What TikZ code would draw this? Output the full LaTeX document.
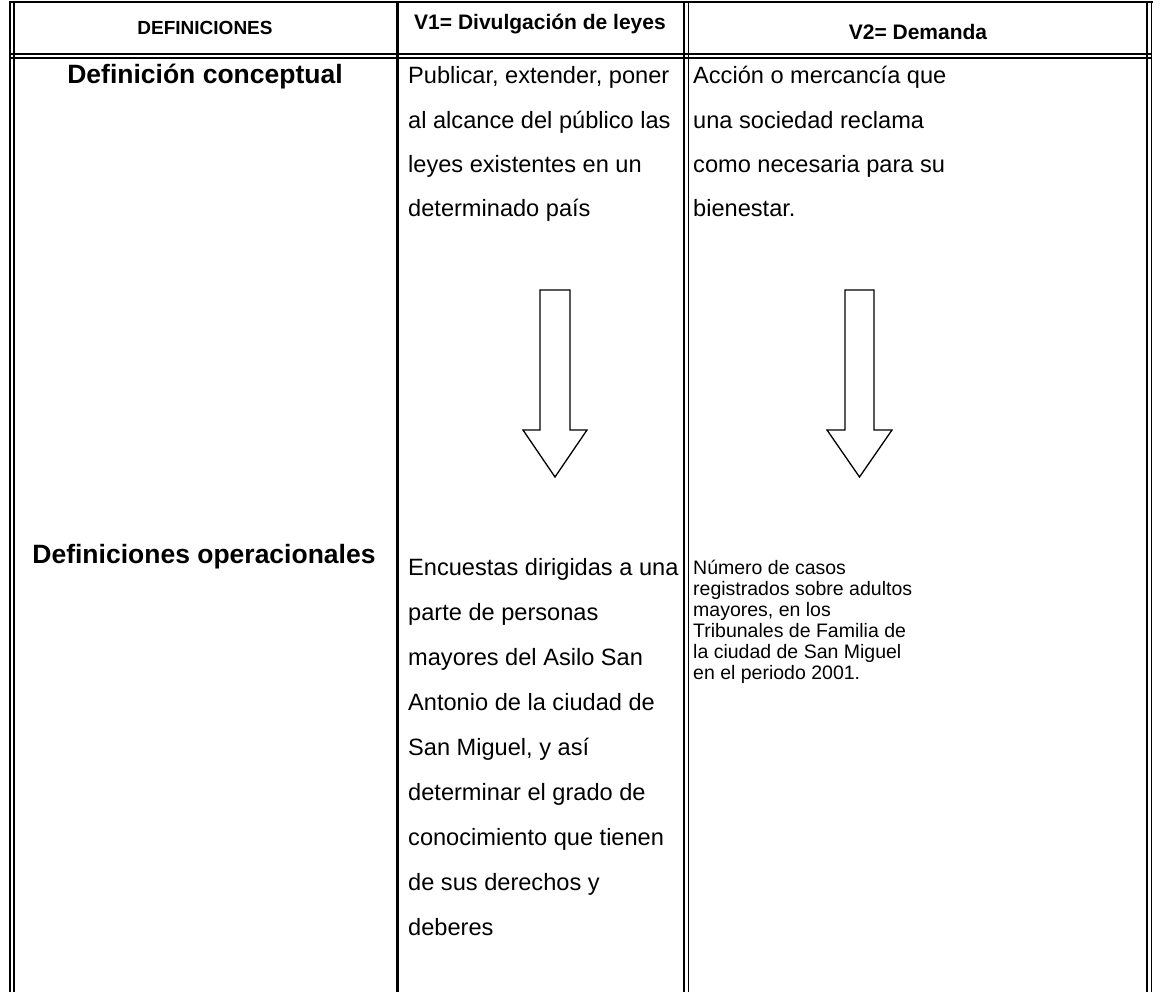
\documentclass[tikz,border=0pt]{standalone}
\usepackage{fontspec}
\setmainfont{Liberation Sans}
\begin{document}
\begin{tikzpicture}[x=1pt,y=-1pt,
  rule/.style={line width=1.3pt},
  thickrule/.style={line width=2.6pt},
  body/.style={anchor=base west, inner sep=0pt, font=\fontsize{23.6}{28}\selectfont},
  small/.style={anchor=base west, inner sep=0pt, font=\fontsize{19.5}{23}\selectfont},
  head/.style={anchor=base, inner sep=0pt, font=\bfseries\fontsize{21}{25}\selectfont},
  rowhead/.style={anchor=base, inner sep=0pt, font=\bfseries\fontsize{26.5}{30}\selectfont},
  bigarrow/.style={draw=black, line width=1.3pt, fill=white}]
\useasboundingbox (0,0) rectangle (1163,992);
% frame lines
\draw[thickrule] (9,2) -- (1153,2);
\draw[rule] (10,2) -- (10,992);
\draw[rule] (14,2) -- (14,992);
\draw[line width=2pt] (10,54) -- (1152,54);
\draw[rule] (10,58) -- (1152,58);
\draw[line width=3pt] (397,2) -- (397,992);
\draw[rule] (684,2) -- (684,992);
\draw[rule] (688.5,2) -- (688.5,992);
\draw[rule] (1147,2) -- (1147,992);
\draw[rule] (1151.5,2) -- (1151.5,992);
% header
\node[head, font=\bfseries\fontsize{19}{23}\selectfont] (h1) at (205,35) {DEFINICIONES};
\node[head] (h2) at (540,30) {V1= Divulgación de leyes};
\node[head] (h3) at (918,40) {V2= Demanda};
% row heads
\node[rowhead] (r1) at (205,84) {Definición conceptual};
\node[rowhead] (r2) at (204,563) {Definiciones operacionales};
% col 2 row 1
\node[body] (a1) at (408,84) {Publicar, extender, poner};
\node[body] (a2) at (408,129) {al alcance del público las};
\node[body] (a3) at (408,173) {leyes existentes en un};
\node[body] (a4) at (408,217) {determinado país};
% col 3 row 1
\node[body] (b1) at (693,84) {Acción o mercancía que};
\node[body] (b2) at (693,129) {una sociedad reclama};
\node[body] (b3) at (693,173) {como necesaria para su};
\node[body] (b4) at (693,217) {bienestar.};
% arrows
\draw[bigarrow] (540,290) -- (570,290) -- (570,430) -- (587,430) -- (555,477) -- (523,430) -- (540,430) -- cycle;
\draw[bigarrow] (845,290) -- (874,290) -- (874,430) -- (892,430) -- (859.5,477) -- (827,430) -- (845,430) -- cycle;
% col 2 row 2
\node[body] (c1) at (408,575) {Encuestas dirigidas a una};
\node[body] (c2) at (408,620) {parte de personas};
\node[body] (c3) at (408,665) {mayores del Asilo San};
\node[body] (c4) at (408,710) {Antonio de la ciudad de};
\node[body] (c5) at (408,755) {San Miguel, y así};
\node[body] (c6) at (408,800) {determinar el grado de};
\node[body] (c7) at (408,845) {conocimiento que tienen};
\node[body] (c8) at (408,890) {de sus derechos y};
\node[body] (c9) at (408,935) {deberes};
% col 3 row 2
\node[small] (d1) at (693,574) {Número de casos};
\node[small] (d2) at (693,595) {registrados sobre adultos};
\node[small] (d3) at (693,616) {mayores, en los};
\node[small] (d4) at (693,637) {Tribunales de Familia de};
\node[small] (d5) at (693,658) {la ciudad de San Miguel};
\node[small] (d6) at (693,679) {en el periodo 2001.};
\end{tikzpicture}
\end{document}
